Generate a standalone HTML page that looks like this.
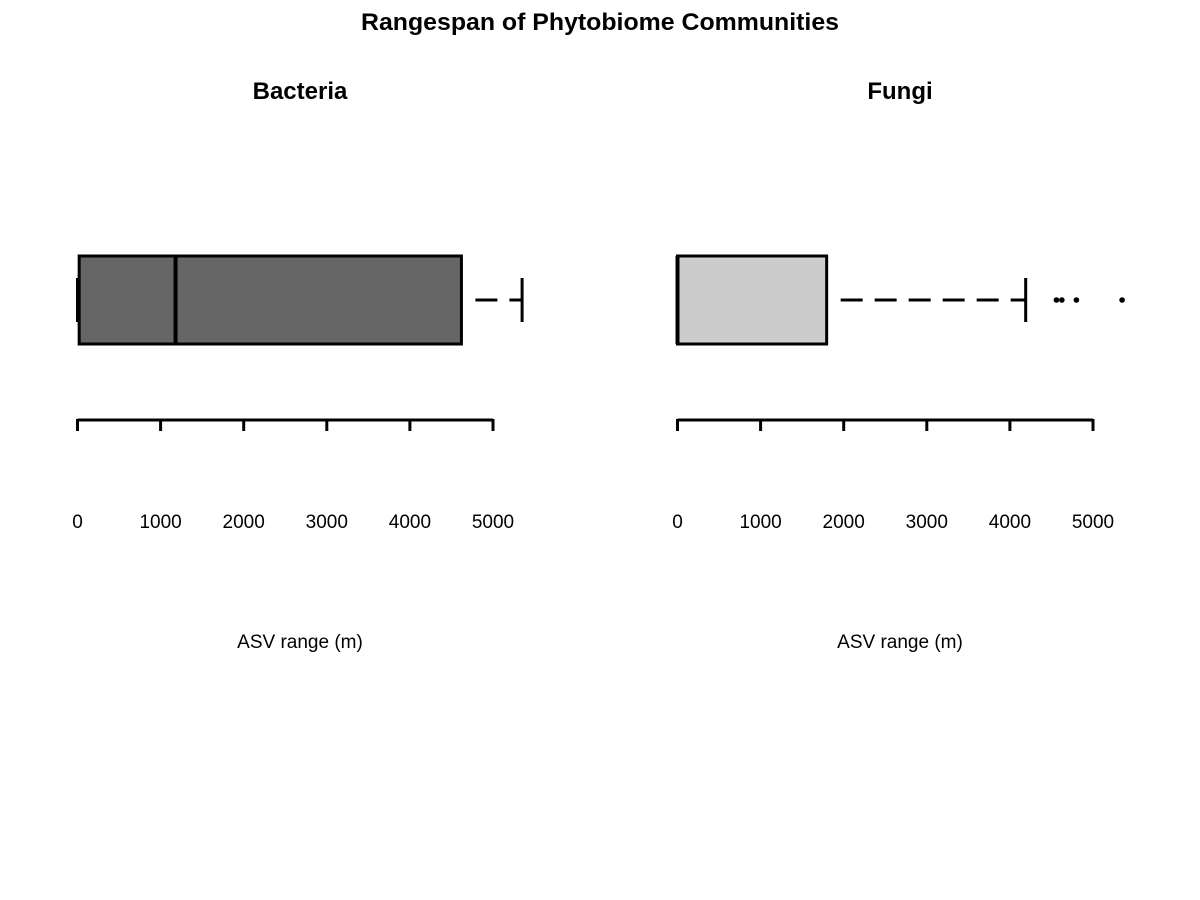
<!DOCTYPE html>
<html><head><meta charset="utf-8"><style>body{margin:0;background:#fff}svg{display:block}text{font-family:"Liberation Sans",Arial,sans-serif}</style></head>
<body>
<svg id="chart" width="1200" height="900" xmlns="http://www.w3.org/2000/svg">
<rect width="1200" height="900" fill="#fff"/>
<text x="600" y="30" text-anchor="middle" font-size="24" font-weight="bold" textLength="478" lengthAdjust="spacingAndGlyphs">Rangespan of Phytobiome Communities</text>
<g id="panels"></g>
</svg>
<script>
const panelNames = ["Bacteria", "Fungi"];
const panelFill = ["#666666", "#cccccc"];
const lowerWhisker = [0, 0];
const q1 = [20, 0];
const median = [1180, 0];
const q3 = [4620, 1795];
const upperWhisker = [5350, 4190];
const outliers = [[], [4560, 4625, 4800, 5350]];
const tickValues = [0, 1000, 2000, 3000, 4000, 5000];
const tickLabels = ["0", "1000", "2000", "3000", "4000", "5000"];

const NS = "http://www.w3.org/2000/svg";
const g = document.getElementById("panels");
const origins = [77.5, 677.5];
const pxPer = 415.5 / 5000;
function mk(tag, attrs, parent) {
  const e = document.createElementNS(NS, tag);
  for (const k in attrs) e.setAttribute(k, attrs[k]);
  parent.appendChild(e);
  return e;
}
panelNames.forEach((name, i) => {
  const sx = v => origins[i] + v * pxPer;
  const p = mk("g", {}, g);
  
  
  const t = mk("text", {x: 300 + i * 600, y: 99, "text-anchor": "middle", "font-size": 24, "font-weight": "bold"}, p);
  t.textContent = name;
  
  
  const yc = 300, yt = 256, yb = 344;
  const lw = mk("line", {x1: sx(lowerWhisker[i]), x2: sx(q1[i]), y1: yc, y2: yc, stroke: "#000", "stroke-width": 3, "stroke-dasharray": "14,10"}, p);
  
  
  const lc = mk("line", {x1: sx(lowerWhisker[i]), x2: sx(lowerWhisker[i]), y1: 278, y2: 322, stroke: "#000", "stroke-width": 3}, p);
  
  
  const uw = mk("line", {x1: sx(q3[i]) + 14, x2: sx(upperWhisker[i]), y1: yc, y2: yc, stroke: "#000", "stroke-width": 3, "stroke-dasharray": "22,12"}, p);
  
  
  const uc = mk("line", {x1: sx(upperWhisker[i]), x2: sx(upperWhisker[i]), y1: 278, y2: 322, stroke: "#000", "stroke-width": 3}, p);
  
  
  const box = mk("rect", {x: sx(q1[i]), y: yt, width: sx(q3[i]) - sx(q1[i]), height: yb - yt, fill: panelFill[i], stroke: "#000", "stroke-width": 3}, p);
  
  
  const md = mk("line", {x1: sx(median[i]), x2: sx(median[i]), y1: yt, y2: yb, stroke: "#000", "stroke-width": 4}, p);
  
  
  outliers[i].forEach(v => {
    const c = mk("circle", {cx: sx(v), cy: yc, r: 2.8, fill: "#000"}, p);
    
    
  });
  const ax = mk("line", {x1: sx(tickValues[0]), x2: sx(tickValues[tickValues.length - 1]), y1: 420, y2: 420, stroke: "#000", "stroke-width": 3}, p);
  
  
  tickValues.forEach((v, j) => {
    const tk = mk("line", {x1: sx(v), x2: sx(v), y1: 419, y2: 431, stroke: "#000", "stroke-width": 3}, p);
    
    
    const tl = mk("text", {x: sx(v), y: 528, "text-anchor": "middle", "font-size": 19}, p);
    tl.textContent = tickLabels[j];
    
    
  });
  const xt = mk("text", {x: 300 + i * 600, y: 648, "text-anchor": "middle", "font-size": 19}, p);
  xt.textContent = "ASV range (m)";
  
  
});
</script>
</body></html>
